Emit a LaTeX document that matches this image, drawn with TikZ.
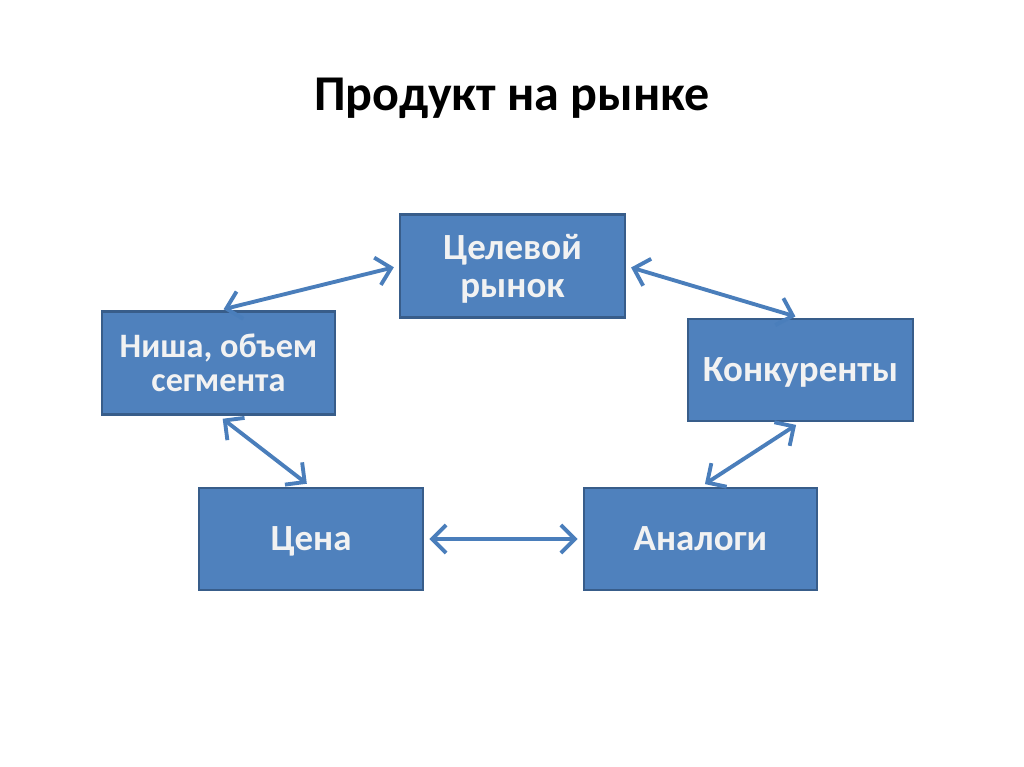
\documentclass[tikz,border=0pt]{standalone}
\usepackage{fontspec}
\setmainfont{Carlito}
\usetikzlibrary{arrows.meta}

\definecolor{boxblue}{HTML}{4F81BD}
\definecolor{boxline}{HTML}{385D8A}
\definecolor{linkblue}{HTML}{4A7EBB}

\tikzset{
  card/.style={draw=boxline, line width=1.2pt, fill=boxblue, text=white!95!black,
    font=\bfseries\fontsize{21}{22}\selectfont, align=center, text depth=0pt,
    minimum width=4.5cm, minimum height=2.06cm, inner sep=0pt},
  oneline/.style={text height=13.5pt, text depth=0pt},
  link/.style={draw=linkblue, line width=2.2pt,
    {Straight Barb[length=8pt,width=16pt]}-{Straight Barb[length=8pt,width=16pt]},
    shorten <=3pt, shorten >=3pt}
}

\begin{document}
\begin{tikzpicture}[x=0.02cm,y=-0.02cm]
\useasboundingbox (0,0) rectangle (1024,767);

\node[font=\bfseries\fontsize{28.5}{34}\selectfont, text height=18.4pt, text depth=0pt] (title) at (512,94) {Продукт на рынке};

\node[card] (target) at (512.5,266) {Целевой\\рынок};
\node[card, minimum width=4.66cm, font=\bfseries\fontsize{19.5}{19.5}\selectfont] (niche) at (218.5,363) {Ниша, объем\\сегмента};
\node[card, oneline, minimum height=2.04cm] (rivals) at (800.5,370) {Конкуренты};
\node[card, oneline, minimum width=4.48cm, minimum height=2.04cm] (price) at (311,539) {Цена};
\node[card, oneline, minimum width=4.66cm, minimum height=2.04cm] (analogs) at (700.5,539) {Аналоги};

\draw[link] (target.west) -- (niche.north);
\draw[link] (target.east) -- (rivals.north);
\draw[link] (niche.south) -- (price.north);
\draw[link] (rivals.south) -- (analogs.north);
\draw[link] (price.east) -- (analogs.west);

\end{tikzpicture}
\end{document}
